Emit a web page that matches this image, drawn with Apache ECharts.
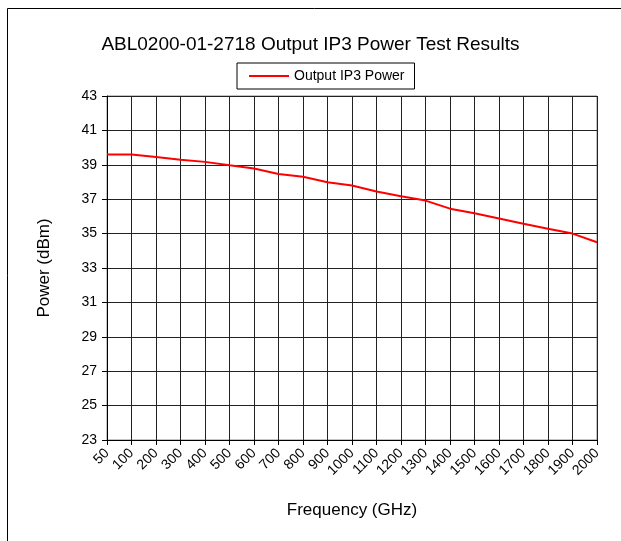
<!DOCTYPE html>
<html>
<head>
<meta charset="utf-8">
<script src="https://cdn.jsdelivr.net/npm/echarts@6/dist/echarts.min.js"></script>
<style>
  html, body { margin: 0; padding: 0; background: #fff; }
  #main { width: 621px; height: 541px; }
</style>
</head>
<body>
<div id="main"></div>
<script>
// Frequency points (GHz) and measured output IP3 power (dBm)
const frequencies = ['50', '100', '200', '300', '400', '500', '600', '700', '800', '900', '1000',
  '1100', '1200', '1300', '1400', '1500', '1600', '1700', '1800', '1900', '2000'];
const ip3Power = [39.6, 39.6, 39.45, 39.3, 39.17, 38.97, 38.78, 38.46, 38.3, 37.98, 37.8,
  37.45, 37.17, 36.92, 36.45, 36.18, 35.88, 35.57, 35.28, 35.0, 34.5];
const yTicks = { min: 23, max: 43, step: 2 };

const font = 'Liberation Sans, Arial, sans-serif';

var myChart = echarts.init(document.getElementById('main'));

const option = {
  backgroundColor: '#fff',
  animation: false,
  title: {
    text: 'ABL0200-01-2718 Output IP3 Power Test Results',
    left: 'center',
    top: 30,
    textStyle: { fontFamily: font, fontSize: 19, fontWeight: 'normal', color: '#000' }
  },
  legend: {
    data: ['Output IP3 Power'],
    left: 237,
    top: 63,
    width: 178,
    padding: [6, 10, 6, 12],
    borderColor: '#000',
    borderWidth: 1,
    itemWidth: 40,
    itemHeight: 14,
    itemGap: 6,
    icon: 'path://M0,6 L40,6 L40,8 L0,8 Z',
    textStyle: { fontFamily: font, fontSize: 14, color: '#000' }
  },
  grid: {
    left: 107,
    right: 24,
    top: 96,
    bottom: 101,
    show: true,
    borderColor: '#888',
    borderWidth: 1
  },
  xAxis: {
    type: 'category',
    data: frequencies,
    boundaryGap: false,
    name: 'Frequency (GHz)',
    nameLocation: 'middle',
    nameGap: 62,
    nameTextStyle: { fontFamily: font, fontSize: 17, color: '#000' },
    axisLine: { lineStyle: { color: '#000', width: 1 } },
    axisTick: { show: true, length: 5, lineStyle: { color: '#000' } },
    axisLabel: {
      rotate: 45,
      interval: 0,
      margin: 11,
      fontFamily: font,
      fontSize: 14,
      color: '#000'
    },
    splitLine: { show: true, lineStyle: { color: '#222', width: 1 } }
  },
  yAxis: {
    type: 'value',
    min: yTicks.min,
    max: yTicks.max,
    interval: yTicks.step,
    name: 'Power (dBm)',
    nameLocation: 'middle',
    nameGap: 54,
    nameTextStyle: { fontFamily: font, fontSize: 17, color: '#000' },
    axisLine: { show: true, lineStyle: { color: '#000', width: 1 } },
    axisTick: { show: true, length: 5, lineStyle: { color: '#000' } },
    axisLabel: { margin: 10, fontFamily: font, fontSize: 14, color: '#000' },
    splitLine: { show: true, lineStyle: { color: '#222', width: 1 } }
  },
  series: [
    {
      name: 'Output IP3 Power',
      type: 'line',
      data: ip3Power,
      symbol: 'none',
      lineStyle: { color: '#ff0000', width: 2 },
      itemStyle: { color: '#ff0000' }
    }
  ],
  graphic: [
    {
      type: 'rect',
      shape: { x: 7.5, y: 8.5, width: 700, height: 700 },
      style: { fill: 'none', stroke: '#000', lineWidth: 1 },
      silent: true
    }
  ]
};

myChart.setOption(option);
</script>
</body>
</html>
